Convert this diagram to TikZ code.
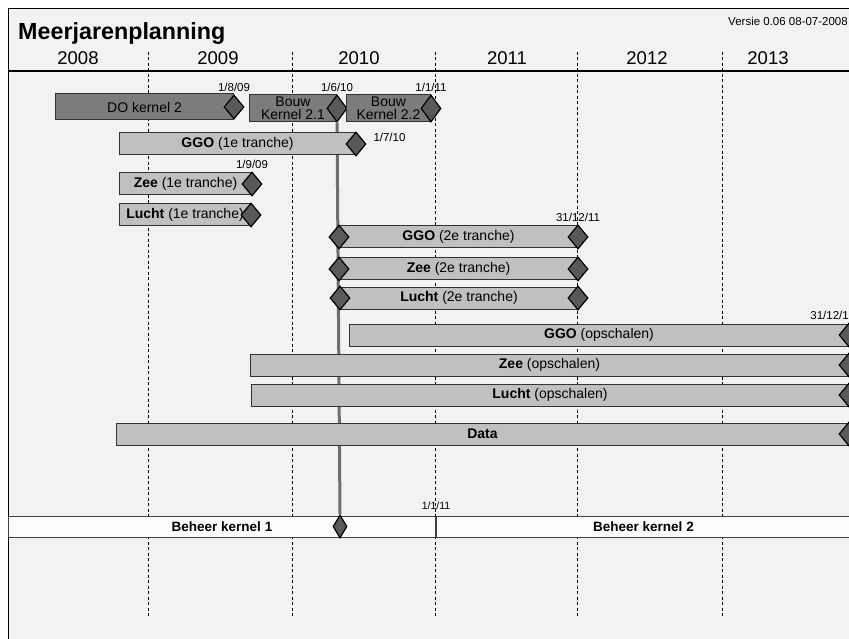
\documentclass[tikz,border=0pt]{standalone}
\usepackage{fontspec}
\setmainfont{Liberation Sans}
\usetikzlibrary{shapes.geometric,positioning,backgrounds}
\definecolor{bggray}{HTML}{F2F2F2}
\definecolor{bardark}{HTML}{7C7C7C}
\definecolor{barlight}{HTML}{C0C0C0}
\definecolor{msgray}{HTML}{595959}
\definecolor{linegray}{HTML}{6E6E6E}
\definecolor{bandwhite}{HTML}{FBFBFB}
\newcommand\fsize[1]{\fontsize{#1}{#1}\selectfont}

\begin{document}
\begin{tikzpicture}[x=1pt, y=-1pt,
  bar/.style={draw=black!80, line width=1pt, rectangle, inner sep=0pt, anchor=west, minimum height=22pt, fill=barlight, font=\fsize{14}},
  darkbar/.style={bar, fill=bardark, minimum height=26pt, align=center, font=\fontsize{14}{13}\selectfont},
  ms/.style={diamond, draw=black, line width=1.2pt, fill=msgray, inner sep=0pt, minimum width=20pt, minimum height=24pt},
  datelbl/.style={inner sep=0pt, font=\fsize{11.5}},
  gridline/.style={dash pattern=on 3pt off 2.5pt, line width=0.9pt},
  band/.style={draw=black!75, line width=1pt, fill=bandwhite, inner sep=0pt, anchor=west, minimum height=21pt, font=\bfseries\fsize{13.5}}]
\useasboundingbox (0,0) rectangle (849,639);
\begin{scope}[on background layer]
\fill[bggray] (8,9) rectangle (849,639);
\draw[line width=1pt] (8,639) -- (8,9) -- (849,9);
\foreach \x in {148,292,435,577,722} \draw[gridline] (\x,52) -- (\x,618);
\end{scope}

% kop
\node[anchor=base west, inner sep=0pt, font=\bfseries\fsize{23.3}] (title) at (18,40) {Meerjarenplanning};
\node[anchor=base east, inner sep=0pt, font=\fsize{11.5}] (versie) at (848,26) {Versie 0.06 08-07-2008};
\foreach \yr/\x in {2008/78,2009/218,2010/359,2011/507,2012/647,2013/768}
  \node[anchor=base, inner sep=0pt, font=\fsize{18.5}] (yr\yr) at (\x,65) {\yr};
\draw[line width=1.5pt] (8,71) -- (849,71);

% kernels
\node[darkbar, minimum width=178] (dok2) at (55,107) {DO kernel 2};
\node[ms] (mdok2) at (dok2.east) {};
\node[datelbl, above=3pt of mdok2] (ldok2) {1/8/09};
\node[darkbar, minimum width=87, minimum height=27] (bk21) at (249,108.5) {Bouw\\Kernel 2.1};
\node[ms, minimum height=27pt] (mbk21) at (bk21.east) {};
\node[datelbl, above=3pt of mbk21] (lbk21) {1/6/10};
\node[darkbar, minimum width=84, minimum height=27] (bk22) at (346,108.5) {Bouw\\Kernel 2.2};
\node[ms, minimum height=27pt] (mbk22) at (bk22.east) {};
\node[datelbl, above=3pt of mbk22] (lbk22) {1/1/11};

% 1e tranche
\node[bar, minimum width=236] (ggo1) at (119,144) {\textbf{GGO} (1e tranche)};
\node[ms] (mggo1) at (ggo1.east) {};
\node[datelbl, right=12pt of mggo1.north east] (lggo1) {1/7/10};
\node[bar, minimum width=132] (zee1) at (119,184) {\textbf{Zee} (1e tranche)};
\node[ms] (mzee1) at (zee1.east) {};
\node[datelbl, above=3pt of mzee1] (lzee1) {1/9/09};
\node[bar, minimum width=131] (lucht1) at (119,215) {\textbf{Lucht} (1e tranche)};
\node[ms] (mlucht1) at (lucht1.east) {};

% 2e tranche
\node[bar, minimum width=238] (ggo2) at (339,237) {\textbf{GGO} (2e tranche)};
\node[ms] (mggo2a) at (ggo2.west) {};
\node[ms] (mggo2b) at (ggo2.east) {};
\node[datelbl, above=3pt of mggo2b] (lggo2) {31/12/11};
\node[bar, minimum width=238] (zee2) at (339,269) {\textbf{Zee} (2e tranche)};
\node[ms] (mzee2a) at (zee2.west) {};
\node[ms] (mzee2b) at (zee2.east) {};
\node[bar, minimum width=237] (lucht2) at (340,298) {\textbf{Lucht} (2e tranche)};
\node[ms] (mlucht2a) at (lucht2.west) {};
\node[ms] (mlucht2b) at (lucht2.east) {};

% opschalen
\node[bar, minimum width=499] (ggoop) at (349,335) {\textbf{GGO} (opschalen)};
\node[ms] (mggoop) at (ggoop.east) {};
\node[datelbl, above=3pt of mggoop.north, anchor=south east] (lggoop) {31/12/1};
\node[bar, minimum width=598] (zeeop) at (250,365) {\textbf{Zee} (opschalen)};
\node[ms] (mzeeop) at (zeeop.east) {};
\node[bar, minimum width=597] (luchtop) at (251,395) {\textbf{Lucht} (opschalen)};
\node[ms] (mluchtop) at (luchtop.east) {};
\node[bar, minimum width=732] (data) at (116,434) {\textbf{Data}};
\node[ms] (mdata) at (data.east) {};

% beheer
\node[band, minimum width=427] (bh1) at (8,526.5) {Beheer kernel 1};
\node[band, minimum width=414] (bh2) at (bh1.east) {Beheer kernel 2};
\node[ms, minimum width=14pt, minimum height=23pt] (mbh) at (340,526.5) {};
\node[datelbl, font=\fsize{10.5}, above=6pt of bh2.north west] (lbh2) {1/1/11};

\begin{scope}[on background layer]
\draw[linegray, line width=3pt] (mbk21.south) -- (mbh.north);
\end{scope}
\end{tikzpicture}
\end{document}
